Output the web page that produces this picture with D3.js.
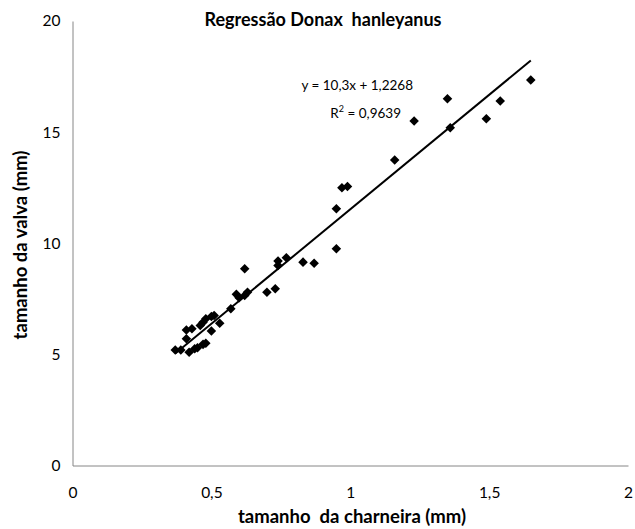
<!DOCTYPE html>
<html>
<head>
<meta charset="utf-8">
<script src="https://cdn.jsdelivr.net/npm/d3@7"></script>
<style>
  body { margin: 0; background: #fff; }
  svg { display: block; font-family: Lato, "Open Sans", sans-serif; }
  .axis path { stroke: #868686; }
</style>
</head>
<body>
<div id="chart"></div>
<script>
const width = 635;
const height = 529;

// tamanho da charneira (mm)
const charneira = [0.37, 0.39, 0.42, 0.44, 0.45, 0.47, 0.48, 0.41, 0.41, 0.43,
    0.50, 0.53, 0.47, 0.48, 0.50, 0.51, 0.46, 0.57, 0.60, 0.62, 0.59, 0.62,
    0.63, 0.70, 0.73, 0.74, 0.74, 0.77, 0.83, 0.87, 0.95, 0.95, 0.97, 0.99,
    1.16, 1.23, 1.35, 1.36, 1.49, 1.54, 1.65];
// tamanho da valva (mm)
const valva = [5.2, 5.2, 5.1, 5.25, 5.3, 5.45, 5.5, 5.7, 6.1, 6.15,
    6.05, 6.4, 6.45, 6.6, 6.7, 6.75, 6.3, 7.05, 7.55, 7.65, 7.7, 8.85,
    7.8, 7.8, 7.95, 9.0, 9.2, 9.35, 9.15, 9.1, 9.75, 11.55, 12.5, 12.55,
    13.75, 15.5, 16.5, 15.2, 15.6, 16.4, 17.35];

const xTicks = [0, 0.5, 1, 1.5, 2];
const yTicks = [0, 5, 10, 15, 20];
const slope = 10.3, intercept = 1.2268;

const ptBR = d3.formatLocale({ decimal: ",", thousands: ".", grouping: [3], currency: ["", ""] });
const fmt = ptBR.format("~g");

const svg = d3.select("#chart")
    .append("svg")
    .attr("width", width)
    .attr("height", height);

const x = d3.scaleLinear().domain([0, 2]).range([72.5, 628]);
const y = d3.scaleLinear().domain([0, 20]).range([465.5, 21]);

// eixos
svg.append("g")
    .attr("class", "axis")
    .attr("transform", `translate(0,${y(0)})`)
    .call(d3.axisBottom(x).tickValues(xTicks).tickSize(0).tickPadding(21).tickFormat(fmt))
    .call(g => g.selectAll("text").attr("font-size", 15.5).attr("fill", "#000").attr("font-family", "Lato, sans-serif"));

svg.append("g")
    .attr("class", "axis")
    .attr("transform", `translate(${x(0)},0)`)
    .call(d3.axisLeft(y).tickValues(yTicks).tickSize(0).tickPadding(12).tickFormat(fmt))
    .call(g => g.selectAll("text").attr("font-size", 15.5).attr("fill", "#000").attr("font-family", "Lato, sans-serif"));

// linha de regressão
const xr = d3.extent(charneira);
svg.append("line")
    .attr("x1", x(xr[0])).attr("y1", y(slope * xr[0] + intercept))
    .attr("x2", x(xr[1])).attr("y2", y(slope * xr[1] + intercept))
    .attr("stroke", "#000")
    .attr("stroke-width", 2);

// pontos
const diamond = d3.symbol().type(d3.symbolDiamond2).size(58);
svg.selectAll(".pt")
    .data(charneira)
    .enter()
    .append("path")
    .attr("class", "pt")
    .attr("d", diamond)
    .attr("transform", (d, i) => `translate(${x(d)},${y(valva[i])})`)
    .attr("fill", "#000");

// títulos
svg.append("text")
    .attr("x", 323).attr("y", 26)
    .attr("text-anchor", "middle")
    .attr("font-size", 18).attr("font-weight", "bold")
    .style("white-space", "pre")
    .text("Regressão Donax  hanleyanus");

svg.append("text")
    .attr("x", 352).attr("y", 523)
    .attr("text-anchor", "middle")
    .attr("font-size", 18.5).attr("font-weight", "bold")
    .style("white-space", "pre")
    .text("tamanho  da charneira (mm)");

svg.append("text")
    .attr("transform", "translate(27,245) rotate(-90)")
    .attr("text-anchor", "middle")
    .attr("font-size", 18.5).attr("font-weight", "bold")
    .text("tamanho da valva (mm)");

// equação
svg.append("text")
    .attr("x", 413).attr("y", 90)
    .attr("text-anchor", "end")
    .attr("font-size", 13.5)
    .text("y = 10,3x + 1,2268");

const r2 = svg.append("text")
    .attr("x", 401).attr("y", 118)
    .attr("text-anchor", "end")
    .attr("font-size", 13.5);
r2.append("tspan").text("R");
r2.append("tspan").attr("dy", -6).attr("font-size", 9).text("2");
r2.append("tspan").attr("dy", 6).text(" = 0,9639");
</script>
</body>
</html>
